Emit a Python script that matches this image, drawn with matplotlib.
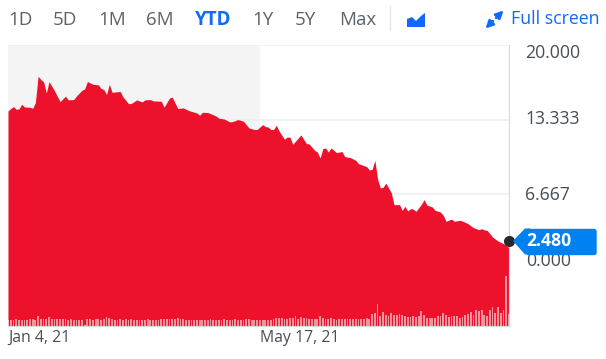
import matplotlib
matplotlib.use('Agg')
import matplotlib.pyplot as plt
from matplotlib.patches import Polygon, FancyBboxPatch

plt.rcParams['font.family'] = ['Open Sans', 'DejaVu Sans']

# trading day index (0 = Jan 4, 21) and close
days = [0, 1, 2, 3, 4, 5, 6, 8, 9, 10, 11, 12, 13, 14, 15, 16, 17, 19, 21, 22, 24, 25, 27, 28, 29,
        31, 33, 34, 35, 36, 37, 38, 41, 42, 44, 45, 47, 49, 50, 52, 53, 56, 57, 59, 60, 62, 64, 66,
        69, 70, 71, 73, 76, 77, 79, 81, 82, 84, 86, 88, 90, 91, 93, 94, 95, 96, 97, 98, 99, 101,
        102, 103, 104, 107, 109, 110, 112, 113, 114, 115, 116, 117, 118, 120, 122, 123, 125, 127,
        128, 131, 132, 133, 134, 135, 136, 137, 138, 140, 141, 143, 144, 145, 146, 147, 148, 149,
        151, 152, 153, 155, 156, 158, 159, 160, 162, 163, 165, 166, 168, 170, 172, 173, 174, 175,
        177, 179, 181, 183]
close = [14.10, 14.32, 14.49, 14.25, 14.28, 14.70, 14.46, 14.43, 14.34, 14.85, 17.21, 16.91, 16.70,
         15.71, 16.73, 16.31, 15.89, 14.94, 15.42, 15.09, 15.12, 15.44, 15.95, 16.07, 16.73,
         16.49, 16.43, 16.11, 16.02, 15.57, 16.49, 15.77, 15.84, 15.35, 14.76, 14.76, 15.09, 14.91,
         15.09, 15.12, 15.00, 14.97, 14.43, 15.26, 15.33, 14.32, 14.37, 14.14,
         13.92, 13.72, 13.98, 13.96, 13.65, 13.45, 13.38, 13.12, 13.15, 13.33, 13.18, 12.58, 12.44,
         12.44, 12.88, 12.70, 12.67, 12.44, 12.44, 12.82, 12.31, 11.57,
         11.77, 11.75, 11.12, 11.95, 11.18, 11.15, 10.58, 10.43, 9.89, 10.73, 10.79, 10.43, 10.79,
         10.38, 10.47, 10.02, 9.93, 9.69,
         9.39, 9.12, 8.82, 8.88, 9.69, 8.00, 7.22, 7.26, 7.65, 6.79, 5.72, 5.72, 5.21, 5.57, 5.15,
         5.36, 5.33, 5.12,
         5.75, 6.17, 5.68, 5.51, 5.21, 5.06, 4.76, 4.23, 4.43, 4.23, 4.32, 4.25, 4.02, 3.66, 3.48,
         3.57, 3.46, 3.42,
         2.82, 2.46, 2.23, 1.87]

# one volume per trading day, in millions (rough)
volume = [6, 6, 6, 6.5, 6, 6, 6, 6, 6.5, 7, 6, 10, 7, 6.5, 7, 8.5, 6.5, 6.5, 7, 6.5,
          6.5, 6.5, 6, 6.5, 6, 6, 6, 6, 1, 6.5, 6.5, 6, 6.5, 6.5, 6, 7, 9, 7.5, 6.5, 6,
          6, 6.5, 6, 6.5, 6, 6.5, 6, 6, 6, 6, 6, 6.5, 6, 6, 6, 6, 6.5, 7, 7, 7,
          7, 7, 8, 6.5, 6.5, 6, 6, 6, 6, 6, 6, 6, 6, 6, 6.5, 6, 6, 6, 6, 6.5,
          6, 6, 6, 6.5, 6, 6, 6, 6.5, 6.5, 6, 6, 6,
          6, 6, 6, 6, 6, 6.5, 7.5, 7.5, 7.5, 7, 7, 8, 8, 9.5, 7, 9, 8, 8, 7, 6.5,
          6.5, 7, 10, 8, 7, 7, 7.5, 6.5, 6, 6.5, 6.5, 6.5, 6.5, 6.5, 6.5, 6.5, 6.5, 6.5,
          7, 7.5, 6.5, 12, 12.5, 22, 10, 14, 10.5, 10, 12.5, 11, 11, 12, 10.5, 9.5, 9, 9,
          9.5, 9, 10, 15, 10.5, 8, 7.5, 8, 8, 9.5, 9.5, 13, 10.5, 9, 10, 10, 9.5, 7.5,
          8.5, 11, 12, 14, 11, 15.5, 15, 15.5, 11, 10, 16, 19, 13, 19, 13, 16, 50, 12]

last_price = 2.48
grid_values = [0, 6.667, 13.333, 20]
y_labels = ['20.000', '13.333', '6.667']
y_label_pos = [53, 119, 195]
date_labels = ['Jan 4, 21', 'May 17, 21']
date_label_x = [8, 260]
ranges = ['1D', '5D', '1M', '6M', 'YTD', '1Y', '5Y', 'Max']
range_x = [8, 53, 98, 146, 195, 252, 295, 339]

RED = '#ee112b'
BLUE = '#0f69ff'
GREY = '#5b636a'
DARK = '#464e56'

fig = plt.figure(figsize=(6.06, 3.59), dpi=100)
ax = fig.add_axes([8 / 606, 1 - 325.5 / 359, 501 / 606, 280.5 / 359])
ax.axvspan(0, 92, color='#f4f4f4', lw=0, zorder=0)
for g in grid_values:
    ax.axhline(g, color='#efefef', lw=1.2, zorder=1)
ax.fill_between(days, close, -5.2, color=RED, lw=0, zorder=2)
ax.set_xlim(0, 183)
ax.set_ylim(-5.09, 20)
ax.set_xticks([])
ax.set_yticks([])
for s in ['top', 'left']:
    ax.spines[s].set_visible(False)
for s in ['right', 'bottom']:
    ax.spines[s].set_color('#d5dae2')
ax.plot([183], [last_price], 'o', color='#26282b', ms=7, clip_on=False, zorder=6)

# volume bars on their own scale
vol = ax.twinx()
vol.bar(range(len(volume)), volume, width=0.66, color='white', alpha=0.55, lw=0, zorder=3)
vol.set_ylim(0, 280.5)
vol.axis('off')

# toolbar, labels etc in pixel coordinates
top = fig.add_axes([0, 0, 1, 1], facecolor='none')
top.set_xlim(0, 606)
top.set_ylim(359, 0)
top.axis('off')

for name, x in zip(ranges, range_x):
    if name == 'YTD':
        top.text(x, 20, name, color=BLUE, fontsize=13.5, weight='bold', va='center')
    else:
        top.text(x, 20, name, color=GREY, fontsize=13.5, va='center')
top.plot([389.5, 389.5], [6, 30], color='#e6e8eb', lw=1)
top.add_patch(Polygon([(407, 27), (407, 19), (412, 17), (416, 21), (421, 16), (425, 13), (425, 27)],
                      color=BLUE, lw=0))
arrow = dict(arrowstyle='-|>', color=BLUE, lw=1.8, mutation_scale=11, shrinkA=0, shrinkB=0)
top.annotate('', xy=(503.5, 10.5), xytext=(496, 18), arrowprops=arrow)
top.annotate('', xy=(485.5, 28.5), xytext=(493, 21), arrowprops=arrow)
top.text(511, 19, 'Full screen', color=BLUE, fontsize=12.8, va='center')

for lab, y in zip(y_labels, y_label_pos):
    top.text(525, y, lab, color=DARK, fontsize=12.7, va='center')
top.text(526, 261.5, '0.000', color=DARK, fontsize=12.7, va='center')
top.add_patch(Polygon([(513, 241), (525, 228.5), (530, 228.5), (530, 254.5), (525, 254.5)],
                      color='#0081f2', lw=0, zorder=5))
top.add_patch(FancyBboxPatch((527, 229.5), 69, 25, boxstyle='round,pad=0,rounding_size=2',
                             color='#0081f2', lw=1, zorder=5))
top.text(526, 241.5, '%.3f' % last_price, color='white', fontsize=12.7, weight='bold', va='center', zorder=6)

for lab, x in zip(date_labels, date_label_x):
    top.text(x, 338, lab, color=DARK, fontsize=11.4, va='center')

fig.savefig('out.png', dpi=100)
